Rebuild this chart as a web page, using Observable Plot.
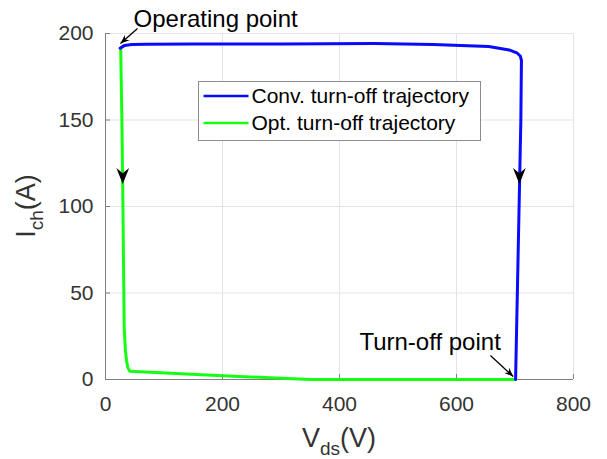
<!DOCTYPE html>
<html>
<head>
<meta charset="utf-8">
<script src="https://cdn.jsdelivr.net/npm/d3@7"></script>
<script src="https://cdn.jsdelivr.net/npm/@observablehq/plot@0.6"></script>
<style>
  body { margin: 0; background: #fff; }
  svg { display: block; }
</style>
</head>
<body>
<div id="chart"></div>
<script>
// Conventional turn-off trajectory (V_ds in V, I_ch in A)
const convVds = [25, 32, 45, 70, 150, 300, 460, 560, 655, 690, 704, 709, 711, 710, 701];
const convIch = [191.5, 193, 193.6, 193.8, 194, 194, 194.2, 193.6, 192.5, 190.5, 188.6, 187, 184.5, 150, 0];

// Optimised turn-off trajectory
const optVds = [26, 28, 29.5, 31, 32, 34, 36, 38, 41.5, 200, 350, 500, 701];
const optIch = [191.5, 150, 110, 60, 30, 16.8, 11, 7, 4.8, 2.2, 0, 0, 0];

const seriesNames = ["Conv. turn-off trajectory", "Opt. turn-off trajectory"];
const seriesColors = ["#0a0aff", "#14ff14"];

const xTicks = [0, 200, 400, 600, 800];
const yTicks = [0, 50, 100, 150, 200];

// Direction-of-travel arrowheads on the two trajectories (tip positions)
const flowVds = [29.5, 707.5];
const flowIch = [113, 113];

// Annotations: label position, arrow tail and arrow tip
const noteLabels = ["Operating point", "Turn-off point"];
const noteTextVds = [48, 434];
const noteTextIch = [204, 16.8];
const noteTailVds = [54.7, 658];
const noteTailIch = [202.9, 13.9];
const noteTipVds = [25.6, 697];
const noteTipIch = [194.2, 1.7];

const W = 607, H = 459;
const M = {top: 33, right: 34, bottom: 80, left: 105};
const font = "'Liberation Sans', Arial, Helvetica, sans-serif";
const axisGray = "#808080";
const textGray = "#333333";

const conv = convVds.map((v, i) => ({vds: v, ich: convIch[i]}));
const opt = optVds.map((v, i) => ({vds: v, ich: optIch[i]}));
const flows = flowVds.map((v, i) => ({vds: v, ich: flowIch[i]}));

const xs = Plot.scale({x: {domain: [0, 800], range: [M.left, W - M.right]}});
const ys = Plot.scale({y: {domain: [0, 200], range: [H - M.bottom, M.top]}});

const notes = noteLabels.map((label, i) => {
  const dx = xs.apply(noteTipVds[i]) - xs.apply(noteTailVds[i]);
  const dy = ys.apply(noteTipIch[i]) - ys.apply(noteTailIch[i]);
  return {
    label,
    tx: noteTextVds[i], ty: noteTextIch[i],
    x1: noteTailVds[i], y1: noteTailIch[i],
    x2: noteTipVds[i], y2: noteTipIch[i],
    angle: Math.atan2(dx, -dy) * 180 / Math.PI
  };
});

// Filled, notched arrowhead pointing up with its tip at the origin
const arrowHead = {
  draw(ctx, size) {
    const r = Math.sqrt(size / Math.PI);
    ctx.moveTo(0, 0);
    ctx.lineTo(0.4 * r, r);
    ctx.lineTo(0, 0.68 * r);
    ctx.lineTo(-0.4 * r, r);
    ctx.closePath();
  }
};

const plot = Plot.plot({
  width: W,
  height: H,
  marginTop: M.top,
  marginRight: M.right,
  marginBottom: M.bottom,
  marginLeft: M.left,
  x: {domain: [0, 800]},
  y: {domain: [0, 200]},
  style: {fontFamily: font, background: "#fff", overflow: "visible"},
  marks: [
    Plot.gridX(xTicks, {stroke: "#e3e3e3", strokeOpacity: 1}),
    Plot.gridY(yTicks, {stroke: "#e3e3e3", strokeOpacity: 1}),
    Plot.ruleX([0], {stroke: axisGray}),
    Plot.ruleY([0], {stroke: axisGray}),
    // inward tick marks
    Plot.ruleX(xTicks, {x: d => d, y1: 0, y2: 0, insetBottom: 5, stroke: axisGray}),
    Plot.ruleY(yTicks, {y: d => d, x1: 0, x2: 0, insetRight: -5, stroke: axisGray}),
    Plot.axisX(xTicks, {tickSize: 0, tickPadding: 17, fontSize: 21, fill: textGray, label: null}),
    Plot.axisY(yTicks, {tickSize: 0, tickPadding: 12, fontSize: 21, fill: textGray, label: null}),
    Plot.line(opt, {x: "vds", y: "ich", stroke: seriesColors[1], strokeWidth: 3}),
    Plot.line(conv, {x: "vds", y: "ich", stroke: seriesColors[0], strokeWidth: 3}),
    Plot.dot(flows, {x: "vds", y: "ich", symbol: arrowHead, r: 16, rotate: 180, fill: "black", stroke: null}),
    Plot.link(notes, {x1: "x1", y1: "y1", x2: "x2", y2: "y2", stroke: "black", strokeWidth: 1.3}),
    Plot.dot(notes, {x: "x2", y: "y2", symbol: arrowHead, r: 9, rotate: "angle", fill: "black", stroke: null}),
    Plot.text(notes, {x: "tx", y: "ty", text: "label", textAnchor: "start", lineAnchor: "bottom", fontSize: 24, fill: "black"})
  ]
});

const svg = d3.select(plot);

// Axis titles with subscripts
const xl = svg.append("text")
  .attr("x", (M.left + W - M.right) / 2)
  .attr("y", 447)
  .attr("text-anchor", "middle")
  .attr("font-size", 27)
  .attr("fill", textGray);
xl.append("tspan").text("V");
xl.append("tspan").attr("font-size", 19).attr("dy", 8).text("ds");
xl.append("tspan").attr("dy", -8).text("(V)");

const yl = svg.append("text")
  .attr("transform", `translate(35,${(M.top + H - M.bottom) / 2}) rotate(-90)`)
  .attr("text-anchor", "middle")
  .attr("font-size", 27)
  .attr("fill", textGray);
yl.append("tspan").text("I");
yl.append("tspan").attr("font-size", 19).attr("dy", 8).text("ch");
yl.append("tspan").attr("dy", -8).text("(A)");

// Legend
const lg = svg.append("g").attr("transform", "translate(198.5,81.5)");
lg.append("rect").attr("width", 282).attr("height", 59)
  .attr("fill", "white").attr("stroke", "#8c8c8c");
seriesNames.forEach((name, i) => {
  const y = 14.5 + i * 27;
  lg.append("line").attr("x1", 5).attr("x2", 50).attr("y1", y).attr("y2", y)
    .attr("stroke", seriesColors[i]).attr("stroke-width", 2.5);
  lg.append("text").attr("x", 53).attr("y", y).attr("dy", "0.35em")
    .attr("text-anchor", "start")
    .attr("font-size", 21).attr("fill", "black").text(name);
});

document.getElementById("chart").appendChild(plot);
</script>
</body>
</html>
